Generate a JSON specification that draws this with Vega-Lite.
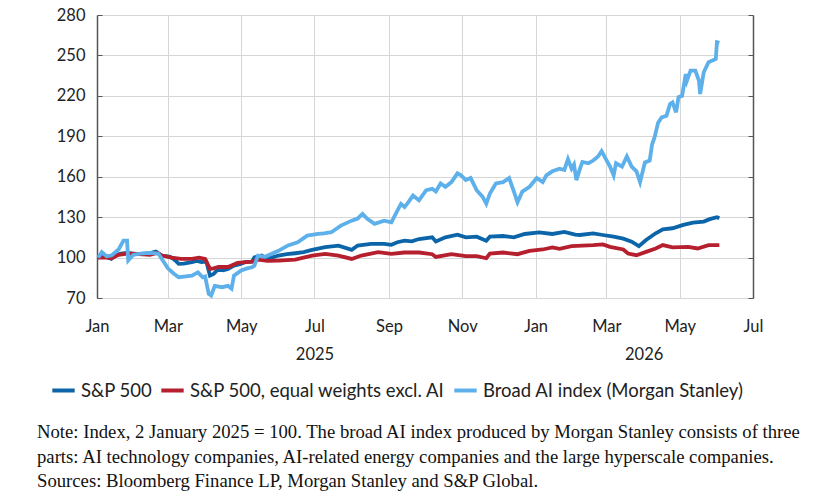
{
  "$schema": "https://vega.github.io/schema/vega-lite/v6.json",
  "width": 656,
  "height": 283,
  "autosize": {"type": "none"},
  "padding": {"left": 97, "top": 15, "right": 74, "bottom": 206},
  "background": "white",
  "config": {
    "view": {"stroke": null},
    "axis": {"labelFont": "Lato", "labelFontSize": 16.5, "labelColor": "#222222", "title": null}
  },
  "title": {
    "text": [
      "Note: Index, 2 January 2025 = 100. The broad AI index produced by Morgan Stanley consists of three",
      "parts: AI technology companies, AI-related energy companies and the large hyperscale companies.",
      "Sources: Bloomberg Finance LP, Morgan Stanley and S&P Global."
    ],
    "orient": "bottom",
    "anchor": "start",
    "frame": "group",
    "dx": -60,
    "offset": 23,
    "font": "Liberation Serif",
    "fontSize": 18.7,
    "fontWeight": "normal",
    "lineHeight": 24.5,
    "color": "#111111"
  },
  "datasets": {
    "sp": [
      {"d": "2025-01-02", "v": 100}, {"d": "2025-01-06", "v": 101}, {"d": "2025-01-09", "v": 100.5},
      {"d": "2025-01-13", "v": 99}, {"d": "2025-01-17", "v": 102}, {"d": "2025-01-21", "v": 103},
      {"d": "2025-01-26", "v": 103.5}, {"d": "2025-01-31", "v": 103}, {"d": "2025-02-05", "v": 102.5},
      {"d": "2025-02-10", "v": 103}, {"d": "2025-02-15", "v": 103.5}, {"d": "2025-02-19", "v": 104.4},
      {"d": "2025-02-24", "v": 101.5}, {"d": "2025-03-03", "v": 100.6}, {"d": "2025-03-07", "v": 98},
      {"d": "2025-03-10", "v": 95.3}, {"d": "2025-03-14", "v": 95.5}, {"d": "2025-03-21", "v": 96.6},
      {"d": "2025-03-25", "v": 97.5}, {"d": "2025-03-29", "v": 96.6}, {"d": "2025-04-02", "v": 97},
      {"d": "2025-04-05", "v": 86.6}, {"d": "2025-04-08", "v": 87.8}, {"d": "2025-04-12", "v": 91.6},
      {"d": "2025-04-16", "v": 90.5}, {"d": "2025-04-20", "v": 91.6}, {"d": "2025-04-25", "v": 94},
      {"d": "2025-04-30", "v": 95}, {"d": "2025-05-04", "v": 96.6}, {"d": "2025-05-10", "v": 97},
      {"d": "2025-05-12", "v": 100.2}, {"d": "2025-05-18", "v": 101.5}, {"d": "2025-05-23", "v": 99},
      {"d": "2025-06-01", "v": 101.5}, {"d": "2025-06-08", "v": 102.5}, {"d": "2025-06-15", "v": 103.2},
      {"d": "2025-06-22", "v": 104}, {"d": "2025-06-29", "v": 105.7}, {"d": "2025-07-10", "v": 107.7},
      {"d": "2025-07-21", "v": 108.9}, {"d": "2025-08-01", "v": 105.7}, {"d": "2025-08-06", "v": 108.9},
      {"d": "2025-08-17", "v": 110.2}, {"d": "2025-08-28", "v": 110.2}, {"d": "2025-09-03", "v": 109.5},
      {"d": "2025-09-08", "v": 111.4}, {"d": "2025-09-14", "v": 112.5}, {"d": "2025-09-20", "v": 112},
      {"d": "2025-09-26", "v": 113.75}, {"d": "2025-10-07", "v": 115}, {"d": "2025-10-10", "v": 112},
      {"d": "2025-10-18", "v": 115}, {"d": "2025-10-28", "v": 117}, {"d": "2025-11-04", "v": 115},
      {"d": "2025-11-13", "v": 115.5}, {"d": "2025-11-21", "v": 112.5}, {"d": "2025-11-24", "v": 115.5},
      {"d": "2025-12-05", "v": 116}, {"d": "2025-12-14", "v": 115}, {"d": "2025-12-23", "v": 117.5},
      {"d": "2026-01-04", "v": 118.75}, {"d": "2026-01-15", "v": 117.5}, {"d": "2026-01-25", "v": 119},
      {"d": "2026-02-03", "v": 117}, {"d": "2026-02-07", "v": 116.75}, {"d": "2026-02-18", "v": 118},
      {"d": "2026-02-26", "v": 116.75}, {"d": "2026-03-07", "v": 115.5}, {"d": "2026-03-15", "v": 114},
      {"d": "2026-03-22", "v": 111.75}, {"d": "2026-03-28", "v": 108.5}, {"d": "2026-04-03", "v": 113},
      {"d": "2026-04-11", "v": 118}, {"d": "2026-04-17", "v": 121}, {"d": "2026-04-25", "v": 121.75},
      {"d": "2026-05-04", "v": 124.25}, {"d": "2026-05-12", "v": 126}, {"d": "2026-05-21", "v": 126.75},
      {"d": "2026-05-26", "v": 128.5}, {"d": "2026-06-01", "v": 130}, {"d": "2026-06-03", "v": 129.25}
    ],
    "eq": [
      {"d": "2025-01-02", "v": 100}, {"d": "2025-01-09", "v": 100}, {"d": "2025-01-13", "v": 99.5},
      {"d": "2025-01-19", "v": 102}, {"d": "2025-01-26", "v": 103}, {"d": "2025-02-05", "v": 102.5},
      {"d": "2025-02-14", "v": 102}, {"d": "2025-02-20", "v": 103.5}, {"d": "2025-02-24", "v": 101.5},
      {"d": "2025-03-04", "v": 100}, {"d": "2025-03-12", "v": 99}, {"d": "2025-03-21", "v": 99},
      {"d": "2025-03-27", "v": 100}, {"d": "2025-04-01", "v": 99}, {"d": "2025-04-05", "v": 91.6},
      {"d": "2025-04-08", "v": 92}, {"d": "2025-04-12", "v": 93}, {"d": "2025-04-20", "v": 93},
      {"d": "2025-04-28", "v": 96}, {"d": "2025-05-10", "v": 97}, {"d": "2025-05-15", "v": 98.5},
      {"d": "2025-05-23", "v": 97.5}, {"d": "2025-06-01", "v": 97.8}, {"d": "2025-06-15", "v": 98.5},
      {"d": "2025-06-29", "v": 101.5}, {"d": "2025-07-10", "v": 102.7}, {"d": "2025-07-21", "v": 101.5},
      {"d": "2025-08-01", "v": 99}, {"d": "2025-08-09", "v": 101.5}, {"d": "2025-08-23", "v": 104},
      {"d": "2025-09-03", "v": 102.7}, {"d": "2025-09-14", "v": 103.75}, {"d": "2025-09-26", "v": 103.75},
      {"d": "2025-10-07", "v": 102.5}, {"d": "2025-10-10", "v": 100.5}, {"d": "2025-10-23", "v": 102.5},
      {"d": "2025-11-04", "v": 101}, {"d": "2025-11-13", "v": 101}, {"d": "2025-11-21", "v": 99.5},
      {"d": "2025-11-24", "v": 103}, {"d": "2025-12-05", "v": 103.75}, {"d": "2025-12-17", "v": 102.5},
      {"d": "2025-12-27", "v": 105}, {"d": "2026-01-07", "v": 106}, {"d": "2026-01-15", "v": 107.5},
      {"d": "2026-01-21", "v": 106.5}, {"d": "2026-01-31", "v": 108.5}, {"d": "2026-02-18", "v": 109.25},
      {"d": "2026-02-26", "v": 109.75}, {"d": "2026-03-04", "v": 108}, {"d": "2026-03-15", "v": 106},
      {"d": "2026-03-19", "v": 103}, {"d": "2026-03-26", "v": 101.75}, {"d": "2026-04-03", "v": 104.25},
      {"d": "2026-04-11", "v": 106.75}, {"d": "2026-04-17", "v": 109.25}, {"d": "2026-04-25", "v": 107.5},
      {"d": "2026-05-08", "v": 108}, {"d": "2026-05-16", "v": 106.75}, {"d": "2026-05-25", "v": 109.25},
      {"d": "2026-06-03", "v": 109.25}
    ],
    "ai": [
      {"d": "2025-01-02", "v": 100}, {"d": "2025-01-05", "v": 104}, {"d": "2025-01-09", "v": 101},
      {"d": "2025-01-13", "v": 101.5}, {"d": "2025-01-19", "v": 106}, {"d": "2025-01-23", "v": 112.6},
      {"d": "2025-01-26", "v": 112.6}, {"d": "2025-01-27", "v": 98}, {"d": "2025-01-31", "v": 102},
      {"d": "2025-02-06", "v": 103}, {"d": "2025-02-14", "v": 103.5}, {"d": "2025-02-21", "v": 103},
      {"d": "2025-02-24", "v": 99}, {"d": "2025-03-01", "v": 92}, {"d": "2025-03-06", "v": 88},
      {"d": "2025-03-10", "v": 85.4}, {"d": "2025-03-16", "v": 86}, {"d": "2025-03-21", "v": 86.6},
      {"d": "2025-03-26", "v": 89}, {"d": "2025-03-30", "v": 85.4}, {"d": "2025-04-01", "v": 86},
      {"d": "2025-04-04", "v": 73}, {"d": "2025-04-06", "v": 71.8}, {"d": "2025-04-09", "v": 79},
      {"d": "2025-04-15", "v": 78}, {"d": "2025-04-20", "v": 79}, {"d": "2025-04-23", "v": 77},
      {"d": "2025-04-25", "v": 86.6}, {"d": "2025-05-01", "v": 90.4}, {"d": "2025-05-06", "v": 92},
      {"d": "2025-05-10", "v": 92.8}, {"d": "2025-05-12", "v": 94}, {"d": "2025-05-15", "v": 101.5},
      {"d": "2025-05-21", "v": 100.6}, {"d": "2025-05-26", "v": 102.7}, {"d": "2025-06-01", "v": 105},
      {"d": "2025-06-09", "v": 109}, {"d": "2025-06-17", "v": 111.4}, {"d": "2025-06-25", "v": 116.3},
      {"d": "2025-07-04", "v": 117.6}, {"d": "2025-07-09", "v": 118}, {"d": "2025-07-15", "v": 118.8},
      {"d": "2025-07-23", "v": 123.7}, {"d": "2025-08-01", "v": 127.4}, {"d": "2025-08-06", "v": 129},
      {"d": "2025-08-10", "v": 132.4}, {"d": "2025-08-14", "v": 128.7}, {"d": "2025-08-20", "v": 125},
      {"d": "2025-08-28", "v": 127.4}, {"d": "2025-09-03", "v": 126.2}, {"d": "2025-09-08", "v": 134.9},
      {"d": "2025-09-11", "v": 139.8}, {"d": "2025-09-14", "v": 137.5}, {"d": "2025-09-17", "v": 141},
      {"d": "2025-09-21", "v": 146}, {"d": "2025-09-26", "v": 142.5}, {"d": "2025-10-02", "v": 150},
      {"d": "2025-10-07", "v": 151}, {"d": "2025-10-10", "v": 149}, {"d": "2025-10-14", "v": 155},
      {"d": "2025-10-18", "v": 152.5}, {"d": "2025-10-23", "v": 156}, {"d": "2025-10-28", "v": 162.5},
      {"d": "2025-10-31", "v": 161}, {"d": "2025-11-04", "v": 157.5}, {"d": "2025-11-08", "v": 159},
      {"d": "2025-11-13", "v": 150}, {"d": "2025-11-18", "v": 145}, {"d": "2025-11-21", "v": 140},
      {"d": "2025-11-24", "v": 147.5}, {"d": "2025-11-29", "v": 155}, {"d": "2025-12-05", "v": 156},
      {"d": "2025-12-10", "v": 159}, {"d": "2025-12-14", "v": 149}, {"d": "2025-12-17", "v": 141},
      {"d": "2025-12-21", "v": 149}, {"d": "2025-12-27", "v": 152.5}, {"d": "2026-01-02", "v": 159},
      {"d": "2026-01-07", "v": 156}, {"d": "2026-01-10", "v": 161}, {"d": "2026-01-15", "v": 164},
      {"d": "2026-01-21", "v": 166}, {"d": "2026-01-25", "v": 165}, {"d": "2026-01-28", "v": 173},
      {"d": "2026-01-31", "v": 166}, {"d": "2026-02-02", "v": 169}, {"d": "2026-02-04", "v": 157.5},
      {"d": "2026-02-07", "v": 166}, {"d": "2026-02-09", "v": 171}, {"d": "2026-02-14", "v": 170},
      {"d": "2026-02-18", "v": 172}, {"d": "2026-02-22", "v": 175}, {"d": "2026-02-25", "v": 179},
      {"d": "2026-02-28", "v": 174}, {"d": "2026-03-04", "v": 167.5}, {"d": "2026-03-07", "v": 161},
      {"d": "2026-03-09", "v": 170}, {"d": "2026-03-14", "v": 167.5}, {"d": "2026-03-18", "v": 175},
      {"d": "2026-03-22", "v": 167.5}, {"d": "2026-03-26", "v": 164}, {"d": "2026-03-29", "v": 156},
      {"d": "2026-04-02", "v": 170.6}, {"d": "2026-04-06", "v": 172}, {"d": "2026-04-08", "v": 184},
      {"d": "2026-04-10", "v": 189}, {"d": "2026-04-13", "v": 200}, {"d": "2026-04-16", "v": 204},
      {"d": "2026-04-20", "v": 205.3}, {"d": "2026-04-23", "v": 214}, {"d": "2026-04-25", "v": 215.2},
      {"d": "2026-04-28", "v": 207.8}, {"d": "2026-04-30", "v": 219}, {"d": "2026-05-03", "v": 220},
      {"d": "2026-05-06", "v": 236.2}, {"d": "2026-05-07", "v": 231.3}, {"d": "2026-05-10", "v": 238.7},
      {"d": "2026-05-14", "v": 238.7}, {"d": "2026-05-17", "v": 231.3}, {"d": "2026-05-18", "v": 221.4},
      {"d": "2026-05-21", "v": 237.5}, {"d": "2026-05-25", "v": 245}, {"d": "2026-05-31", "v": 247.4},
      {"d": "2026-06-01", "v": 259.8}, {"d": "2026-06-03", "v": 259.3}
    ]
  },
  "layer": [
    {
      "data": {"name": "sp"},
      "mark": {"type": "line", "strokeWidth": 3.8},
      "encoding": {
        "x": {
          "field": "d",
          "type": "temporal",
          "scale": {
            "type": "utc",
            "domain": [
              {"year": 2025, "month": 1, "date": 1, "utc": true},
              {"year": 2026, "month": 7, "date": 1, "utc": true}
            ]
          },
          "axis": {
            "orient": "bottom",
            "values": [
              {"year": 2025, "month": 1, "date": 1, "utc": true},
              {"year": 2025, "month": 3, "date": 1, "utc": true},
              {"year": 2025, "month": 5, "date": 1, "utc": true},
              {"year": 2025, "month": 7, "date": 1, "utc": true},
              {"year": 2025, "month": 9, "date": 1, "utc": true},
              {"year": 2025, "month": 11, "date": 1, "utc": true},
              {"year": 2026, "month": 1, "date": 1, "utc": true},
              {"year": 2026, "month": 3, "date": 1, "utc": true},
              {"year": 2026, "month": 5, "date": 1, "utc": true},
              {"year": 2026, "month": 7, "date": 1, "utc": true}
            ],
            "format": "%b",
            "grid": true,
            "gridColor": "#d6d6d6",
            "domain": false,
            "ticks": false,
            "labelPadding": 20,
            "labelOverlap": false,
            "labelFlush": false
          }
        },
        "y": {
          "field": "v",
          "type": "quantitative",
          "scale": {"domain": [70, 280], "nice": false, "zero": false},
          "axis": {
            "orient": "left",
            "values": [70, 100, 130, 160, 190, 220, 250, 280],
            "grid": true,
            "gridColor": "#d6d6d6",
            "domainColor": "#555555",
            "domainWidth": 1.5,
            "tickColor": "#555555",
            "tickSize": -5,
            "labelPadding": 17
          }
        },
        "color": {
          "datum": "S&P 500",
          "type": "nominal",
          "scale": {
            "domain": ["S&P 500", "S&P 500, equal weights excl. AI", "Broad AI index (Morgan Stanley)"],
            "range": ["#0b65a8", "#b51f2e", "#5db0ea"]
          },
          "legend": {
            "orient": "none",
            "legendX": -47,
            "legendY": 362,
            "direction": "horizontal",
            "title": null,
            "symbolType": "stroke",
            "symbolStrokeWidth": 4,
            "symbolSize": 500,
            "labelFont": "Lato",
            "labelFontSize": 18.5,
            "labelColor": "#222222",
            "labelOffset": 4,
            "columnPadding": 0,
            "labelLimit": 400
          }
        }
      }
    },
    {
      "data": {"name": "eq"},
      "mark": {"type": "line", "strokeWidth": 3.8},
      "encoding": {
        "x": {
          "field": "d",
          "type": "temporal",
          "axis": {
            "orient": "bottom",
            "values": [
              {"year": 2025, "month": 7, "date": 1, "utc": true},
              {"year": 2026, "month": 4, "date": 1, "utc": true}
            ],
            "format": "%Y",
            "grid": false,
            "domain": false,
            "ticks": false,
            "labelPadding": 48,
            "labelOverlap": false
          }
        },
        "y": {
          "field": "v",
          "type": "quantitative",
          "axis": {
            "orient": "right",
            "values": [70, 100, 130, 160, 190, 220, 250, 280],
            "grid": false,
            "labels": false,
            "domainColor": "#555555",
            "domainWidth": 1.5,
            "tickColor": "#555555",
            "tickSize": -5
          }
        },
        "color": {"datum": "S&P 500, equal weights excl. AI", "type": "nominal"}
      }
    },
    {
      "data": {"name": "ai"},
      "mark": {"type": "line", "strokeWidth": 3.8},
      "encoding": {
        "x": {"field": "d", "type": "temporal", "axis": null},
        "y": {"field": "v", "type": "quantitative", "axis": null},
        "color": {"datum": "Broad AI index (Morgan Stanley)", "type": "nominal"}
      }
    }
  ],
  "resolve": {"axis": {"x": "independent", "y": "independent"}}
}
